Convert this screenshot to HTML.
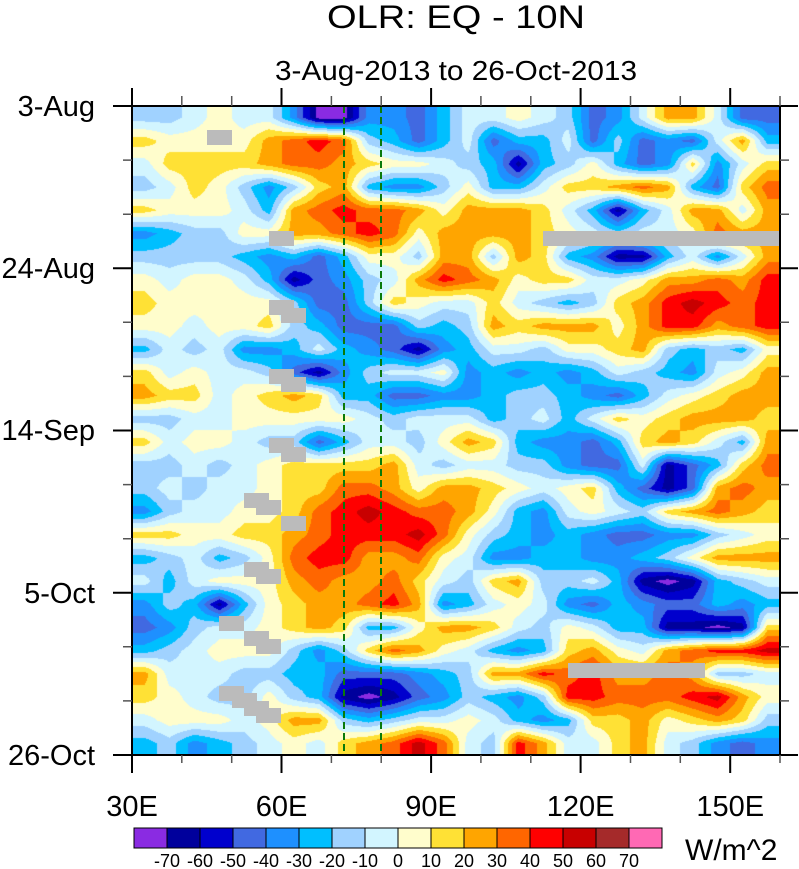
<!DOCTYPE html>
<html>
<head>
<meta charset="utf-8">
<style>
  html,body{margin:0;padding:0;background:#fff;}
  body{width:799px;height:869px;position:relative;overflow:hidden;}
  #c{position:absolute;left:132px;top:106px;}
  svg{position:absolute;left:0;top:0;}
  text{font-family:"Liberation Sans",Arial,sans-serif;fill:#000;}
</style>
</head>
<body>
<canvas id="c" width="648" height="649"></canvas>
<svg width="799" height="869" viewBox="0 0 799 869" xmlns="http://www.w3.org/2000/svg">
  <g fill="#BBBBBB">
    <rect x="207" y="130" width="25" height="15"/>
    <rect x="269" y="231" width="25" height="15"/>
    <rect x="269" y="300" width="25" height="15"/>
    <rect x="281" y="308" width="25" height="15"/>
    <rect x="269" y="369" width="25" height="15"/>
    <rect x="281" y="377" width="25" height="15"/>
    <rect x="269" y="438" width="25" height="15"/>
    <rect x="281" y="447" width="25" height="15"/>
    <rect x="244" y="493" width="25" height="15"/>
    <rect x="256" y="500" width="25" height="15"/>
    <rect x="281" y="516" width="25" height="15"/>
    <rect x="244" y="562" width="25" height="15"/>
    <rect x="256" y="569" width="25" height="15"/>
    <rect x="219" y="616" width="25" height="15"/>
    <rect x="244" y="631" width="25" height="15"/>
    <rect x="256" y="639" width="25" height="15"/>
    <rect x="219" y="686" width="25" height="15"/>
    <rect x="232" y="693" width="25" height="15"/>
    <rect x="244" y="701" width="25" height="15"/>
    <rect x="256" y="708" width="25" height="15"/>
    <rect x="543" y="231" width="237" height="15"/>
    <rect x="568" y="663" width="137" height="15"/>
  </g>
  <g stroke="#0a7a0a" stroke-width="2" stroke-dasharray="7,4">
    <line x1="344" y1="106" x2="344" y2="755"/>
    <line x1="381" y1="106" x2="381" y2="755"/>
  </g>
  <rect x="132" y="106" width="648" height="649" fill="none" stroke="#000" stroke-width="2"/>
  <path stroke="#000" stroke-width="2" fill="none" d="
    M132 755V773 M281.5 755V773 M431.1 755V773 M580.6 755V773 M730.2 755V773
    M132 106V88 M281.5 106V88 M431.1 106V88 M580.6 106V88 M730.2 106V88
    M132 106H113 M132 268.3H113 M132 430.5H113 M132 592.8H113 M132 755H113
    M780 106H798 M780 268.3H798 M780 430.5H798 M780 592.8H798 M780 755H798"/>
  <path stroke="#555" stroke-width="1.5" fill="none" d="
    M181.8 755V763 M231.7 755V763 M331.4 755V763 M381.2 755V763 M480.9 755V763 M530.8 755V763 M630.5 755V763 M680.3 755V763 M780 755V763
    M181.8 106V96 M231.7 106V96 M331.4 106V96 M381.2 106V96 M480.9 106V96 M530.8 106V96 M630.5 106V96 M680.3 106V96 M780 106V96
    M132 160.1H123 M132 214.2H123 M132 322.3H123 M132 376.4H123 M132 484.6H123 M132 538.7H123 M132 646.8H123 M132 700.9H123
    M780 160.1H789 M780 214.2H789 M780 322.3H789 M780 376.4H789 M780 484.6H789 M780 538.7H789 M780 646.8H789 M780 700.9H789"/>
  <text x="456" y="28" font-size="32" text-anchor="middle" textLength="258" lengthAdjust="spacingAndGlyphs">OLR: EQ - 10N</text>
  <text x="456" y="80" font-size="28" text-anchor="middle" textLength="362" lengthAdjust="spacingAndGlyphs">3-Aug-2013 to 26-Oct-2013</text>
  <g font-size="29" text-anchor="end">
    <text x="95" y="116">3-Aug</text>
    <text x="95" y="278">24-Aug</text>
    <text x="95" y="440">14-Sep</text>
    <text x="95" y="603">5-Oct</text>
    <text x="95" y="765">26-Oct</text>
  </g>
  <g font-size="29" text-anchor="middle">
    <text x="132" y="816">30E</text>
    <text x="281.5" y="816">60E</text>
    <text x="431" y="816">90E</text>
    <text x="580.6" y="816">120E</text>
    <text x="730.2" y="816">150E</text>
  </g>
  <g stroke="#000" stroke-width="1">
    <rect x="134" y="828" width="33" height="20" fill="#8A2BE2"/>
    <rect x="167" y="828" width="33" height="20" fill="#00009C"/>
    <rect x="200" y="828" width="33" height="20" fill="#0000CD"/>
    <rect x="233" y="828" width="33" height="20" fill="#4169E1"/>
    <rect x="266" y="828" width="33" height="20" fill="#1E90FF"/>
    <rect x="299" y="828" width="33" height="20" fill="#00BFFF"/>
    <rect x="332" y="828" width="33" height="20" fill="#A0D2FF"/>
    <rect x="365" y="828" width="33" height="20" fill="#D2F5FF"/>
    <rect x="398" y="828" width="33" height="20" fill="#FFFDCC"/>
    <rect x="431" y="828" width="33" height="20" fill="#FFE135"/>
    <rect x="464" y="828" width="33" height="20" fill="#FFA500"/>
    <rect x="497" y="828" width="33" height="20" fill="#FF6600"/>
    <rect x="530" y="828" width="33" height="20" fill="#FF0000"/>
    <rect x="563" y="828" width="33" height="20" fill="#C80000"/>
    <rect x="596" y="828" width="33" height="20" fill="#A52A2A"/>
    <rect x="629" y="828" width="33" height="20" fill="#FF69B4"/>
  </g>
  <g font-size="18" text-anchor="middle">
    <text x="167" y="867">-70</text>
    <text x="200" y="867">-60</text>
    <text x="233" y="867">-50</text>
    <text x="266" y="867">-40</text>
    <text x="299" y="867">-30</text>
    <text x="332" y="867">-20</text>
    <text x="365" y="867">-10</text>
    <text x="398" y="867">0</text>
    <text x="431" y="867">10</text>
    <text x="464" y="867">20</text>
    <text x="497" y="867">30</text>
    <text x="530" y="867">40</text>
    <text x="563" y="867">50</text>
    <text x="596" y="867">60</text>
    <text x="629" y="867">70</text>
  </g>
  <text x="685" y="860" font-size="30">W/m^2</text>
</svg>
<script>
(function(){
  var rows=[
"LLCYCCDPPDDRSCCYCLRDCOOCRR",
"GYYYYOQXQLSRSCRSSCRLRDRCOS",
"CGGGGOQQOGYYCLSNSLYSRDGDCG",
"LCGYLDLGOSDDLYSSCGGOQOSRGQ",
"GYYYCSOQXQQOYOOOGCSNSCOOCO",
"DSLLYYOOQXQYOOOOGYCLCCYQOO",
"LLLLSDSRSYYLOOLOGSDNNSCDCO",
"YCYYCSNRDLCOXQOYGGCCYOOQOX",
"GYYYYYLRRLGYCCGCLSLGOXZXQX",
"YYCYYGLSRRRLSLOGOOOYOXXOQX",
"SCLCDDSCSDRNDSCCLYYGOLSLSY",
"GCYCCLRNDLCCYDSDSDSCLSDCYO",
"OGGCYGOGSSRRDDSLLSDRSCYGOO",
"LLCCYYYYYCLCCCSLCSCGYGOOOG",
"GCYYCLLRSCCLYOGSDDRSGOGCSO",
"LLCLCYGGGGOCLCCLLDRRCNRSGQ",
"LCLCCYGGQQOYOOGYCYGSRNROQO",
"DLCCYYGQXZXQQOYSDCYCLGOQOG",
"GGYYGGOQXXXZQYLSDSDRRDDLCY",
"SLCSLYQXXOOQYCDDSSDDSLYOOO",
"CSCYYYOQOOQGCLGOLLCSNPNSLC",
"DLSNSYGOOQXODSCYCDRSDRRSDS",
"RDLCCYGOGSSYOOGCLYCSSNNPNG",
"SLCYYYLDLGQOYCSDSGOYCOQXXZ",
"OCCCLLSSRRRDSLOOXQXOOQOLLC",
"GYCLLYLSNPNRDLSDLXXQQQXZOY",
"CYYYCYOOLSLCCYCSDSGGOYGOGL",
"SLDSLCYCGOQZQCLXOCCGOCLDRD"];
  var vals={P:-75,N:-65,B:-55,R:-45,D:-35,S:-25,L:-15,C:-5,Y:5,G:15,O:25,Q:35,X:45,Z:55,W:65,K:75};
  var pal=[[138,43,226],[0,0,156],[0,0,205],[65,105,225],[30,144,255],[0,191,255],[160,210,255],[210,245,255],[255,253,204],[255,225,53],[255,165,0],[255,102,0],[255,0,0],[200,0,0],[165,42,42],[255,105,180]];
  var W=648,H=649,NC=26,NR=28,cw=W/NC,rh=H/NR;
  var g=[];
  for(var r=0;r<NR;r++){g[r]=[];for(var c=0;c<NC;c++){g[r][c]=vals[rows[r].charAt(c)];}}
  var cv=document.getElementById('c');var ctx=cv.getContext('2d');
  var img=ctx.createImageData(W,H);var d=img.data;
  for(var y=0;y<H;y++){
    var fy=(y+0.5)/rh-0.5;var r0=Math.floor(fy);var ty=fy-r0;
    if(r0<0){r0=0;ty=0;} if(r0>=NR-1){r0=NR-1;ty=0;}
    var r1=Math.min(r0+1,NR-1);
    for(var x=0;x<W;x++){
      var fx=(x+0.5)/cw-0.5;var c0=Math.floor(fx);var tx=fx-c0;
      if(c0<0){c0=0;tx=0;} if(c0>=NC-1){c0=NC-1;tx=0;}
      var c1=Math.min(c0+1,NC-1);
      var v=(g[r0][c0]*(1-tx)+g[r0][c1]*tx)*(1-ty)+(g[r1][c0]*(1-tx)+g[r1][c1]*tx)*ty;
      var idx=Math.floor((v+80)/10);if(idx<0)idx=0;if(idx>15)idx=15;
      var p=pal[idx];var o=(y*W+x)*4;
      d[o]=p[0];d[o+1]=p[1];d[o+2]=p[2];d[o+3]=255;
    }
  }
  ctx.putImageData(img,0,0);
})();
</script>
</body>
</html>
